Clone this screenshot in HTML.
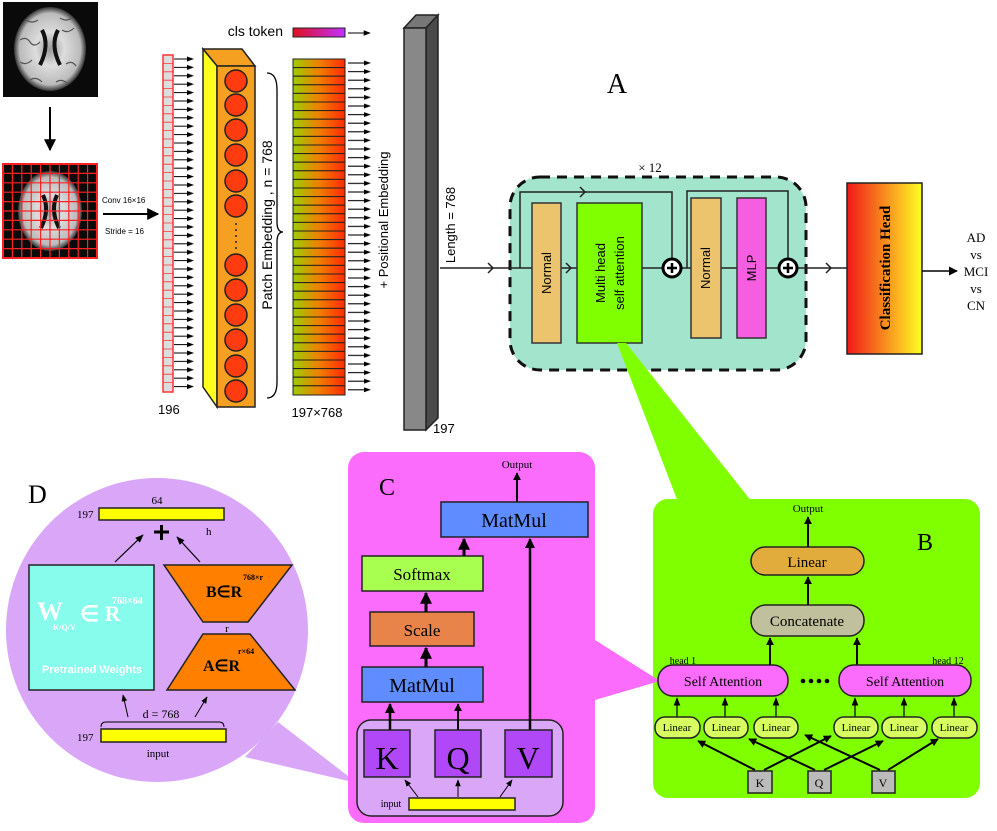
<!DOCTYPE html>
<html><head><meta charset="utf-8"><style>body{margin:0;background:#fff}svg{display:block}</style></head>
<body>
<svg width="997" height="831" viewBox="0 0 997 831" xmlns="http://www.w3.org/2000/svg" font-family="Liberation Serif, serif">
<defs>
<marker id="ah" viewBox="0 0 10 10" refX="9" refY="5" markerWidth="6" markerHeight="6" orient="auto"><path d="M0,0L10,5L0,10z" fill="#000"/></marker>
<marker id="ahs" viewBox="0 0 10 10" refX="9" refY="5" markerWidth="4" markerHeight="4" orient="auto"><path d="M0,0L10,5L0,10z" fill="#000"/></marker>
<marker id="aht" viewBox="0 0 10 10" refX="9" refY="5" markerWidth="7" markerHeight="7" orient="auto"><path d="M0,1L10,5L0,9z" fill="#000"/></marker>
<pattern id="pa1" patternUnits="userSpaceOnUse" x="174" y="55" width="20" height="8.4"><path d="M0,4H14" stroke="#000" stroke-width="1"/><path d="M13,1.5L20,4L13,6.5z" fill="#000"/></pattern>
<pattern id="pa2" patternUnits="userSpaceOnUse" x="348" y="59" width="23" height="8.6"><path d="M0,4H17" stroke="#000" stroke-width="1"/><path d="M16,1.5L23,4L16,6.5z" fill="#000"/></pattern>
<linearGradient id="gb" x1="0" x2="1"><stop offset="0" stop-color="#9ccd00"/><stop offset="0.5" stop-color="#f08000"/><stop offset="1" stop-color="#ff2a00"/></linearGradient>
<linearGradient id="gc" x1="0" x2="1"><stop offset="0" stop-color="#f01818"/><stop offset="1" stop-color="#ff2"/></linearGradient>
<linearGradient id="gt" x1="0" x2="1"><stop offset="0" stop-color="#e01020"/><stop offset="1" stop-color="#c030ff"/></linearGradient>
<radialGradient id="br"><stop offset="0" stop-color="#999"/><stop offset="0.4" stop-color="#ddd"/><stop offset="0.85" stop-color="#bbb"/><stop offset="1" stop-color="#333"/></radialGradient>
</defs>

<!-- brain images -->
<rect x="3" y="2" width="95" height="95" fill="#0a0a0a"/>
<ellipse cx="50" cy="49" rx="36" ry="42" fill="url(#br)"/>
<g stroke="#555" stroke-width="1.2" fill="none"><path d="M20,40q6,-4 10,2t10,0M62,30q6,4 12,-2M20,62q6,4 12,-2M66,64q6,-4 10,2M30,80q6,-4 12,2M56,82q6,-4 12,2M26,20q6,4 12,0M60,18q6,4 12,0"/></g>
<path d="M42,30 Q50,45 40,65 M58,30 Q50,45 60,65" stroke="#111" stroke-width="4" fill="none"/>
<line x1="50" y1="107" x2="50" y2="150" stroke="#000" stroke-width="2" marker-end="url(#ah)"/>
<rect x="3" y="164" width="94" height="94" fill="#0a0a0a"/>
<ellipse cx="50" cy="211" rx="32" ry="40" fill="url(#br)"/>
<path d="M43,195 Q50,210 41,228 M57,195 Q50,210 59,228" stroke="#111" stroke-width="4" fill="none"/>
<g stroke="#f22" stroke-width="1.2" fill="none">
<rect x="3" y="164" width="94" height="94" stroke-width="2"/>
<path d="M12.4,164V258M21.8,164V258M31.2,164V258M40.6,164V258M50,164V258M59.4,164V258M68.8,164V258M78.2,164V258M87.6,164V258M3,173.4H97M3,182.8H97M3,192.2H97M3,201.6H97M3,211H97M3,220.4H97M3,229.8H97M3,239.2H97M3,248.6H97"/>
</g>
<text x="102" y="203" font-family="Liberation Sans, sans-serif" font-size="8">Conv 16×16</text>
<line x1="103" y1="214" x2="158" y2="214" stroke="#000" stroke-width="2" marker-end="url(#ah)"/>
<text x="105" y="234" font-family="Liberation Sans, sans-serif" font-size="8">Stride = 16</text>

<!-- token column -->
<rect x="163" y="55" width="10" height="337" fill="#ddd" stroke="#f33" stroke-width="1.5"/>
<g stroke="#f33" stroke-width="0.8" fill="none">
<path d="M163,63.4h10M163,71.8h10M163,80.2h10M163,88.6h10M163,97h10M163,105.4h10M163,113.8h10M163,122.2h10M163,130.6h10M163,139h10M163,147.4h10M163,155.8h10M163,164.2h10M163,172.6h10M163,181h10M163,189.4h10M163,197.8h10M163,206.2h10M163,214.6h10M163,223h10M163,231.4h10M163,239.8h10M163,248.2h10M163,256.6h10M163,265h10M163,273.4h10M163,281.8h10M163,290.2h10M163,298.6h10M163,307h10M163,315.4h10M163,323.8h10M163,332.2h10M163,340.6h10M163,349h10M163,357.4h10M163,365.8h10M163,374.2h10M163,382.6h10"/>
</g>
<rect x="174" y="55" width="20" height="336" fill="url(#pa1)"/>
<text x="158" y="414" font-family="Liberation Sans, sans-serif" font-size="13">196</text>

<!-- cube -->
<polygon points="203,49 242,49 255,66 217,66" fill="#f5a020" stroke="#222" stroke-width="1.5"/>
<polygon points="203,49 217,66 217,407 203,387" fill="#ffff20" stroke="#222" stroke-width="1.5"/>
<rect x="217" y="66" width="38" height="341" fill="#f5a020" stroke="#222" stroke-width="1.5"/>
<g fill="#ff3c10" stroke="#222" stroke-width="1.5">
<circle cx="236" cy="81" r="11"/><circle cx="236" cy="105" r="11"/><circle cx="236" cy="130" r="11"/><circle cx="236" cy="155" r="11"/><circle cx="236" cy="181" r="11"/><circle cx="236" cy="206" r="11"/>
<circle cx="236" cy="265" r="11"/><circle cx="236" cy="290" r="11"/><circle cx="236" cy="315" r="11"/><circle cx="236" cy="340" r="11"/><circle cx="236" cy="366" r="11"/><circle cx="236" cy="391" r="11"/>
</g>
<g fill="#222"><circle cx="236" cy="224" r="1"/><circle cx="236" cy="230" r="1"/><circle cx="236" cy="236" r="1"/><circle cx="236" cy="242" r="1"/><circle cx="236" cy="248" r="1"/></g>
<path d="M267,73 Q277,73 277,90 L277,222 Q277,232 283,232 Q277,232 277,242 L277,382 Q277,398 267,398" fill="none" stroke="#000" stroke-width="1.3"/>
<text transform="translate(272,225) rotate(-90)" text-anchor="middle" font-family="Liberation Sans, sans-serif" font-size="14">Patch Embedding , n = 768</text>

<!-- cls token -->
<text x="283" y="36" text-anchor="end" font-family="Liberation Sans, sans-serif" font-size="14">cls token</text>
<rect x="293" y="28" width="52" height="9" fill="url(#gt)" stroke="#222"/>
<line x1="348" y1="33" x2="370" y2="33" stroke="#000" marker-end="url(#aht)"/>

<g fill="url(#gb)" stroke="#222" stroke-width="1">
<rect x="293" y="59" width="52" height="8.6"/><rect x="293" y="67.6" width="52" height="8.6"/><rect x="293" y="76.2" width="52" height="8.6"/><rect x="293" y="84.8" width="52" height="8.6"/><rect x="293" y="93.4" width="52" height="8.6"/><rect x="293" y="102" width="52" height="8.6"/><rect x="293" y="110.6" width="52" height="8.6"/><rect x="293" y="119.2" width="52" height="8.6"/><rect x="293" y="127.8" width="52" height="8.6"/><rect x="293" y="136.4" width="52" height="8.6"/><rect x="293" y="145" width="52" height="8.6"/><rect x="293" y="153.6" width="52" height="8.6"/><rect x="293" y="162.2" width="52" height="8.6"/><rect x="293" y="170.8" width="52" height="8.6"/><rect x="293" y="179.4" width="52" height="8.6"/><rect x="293" y="188" width="52" height="8.6"/><rect x="293" y="196.6" width="52" height="8.6"/><rect x="293" y="205.2" width="52" height="8.6"/><rect x="293" y="213.8" width="52" height="8.6"/><rect x="293" y="222.4" width="52" height="8.6"/><rect x="293" y="231" width="52" height="8.6"/><rect x="293" y="239.6" width="52" height="8.6"/><rect x="293" y="248.2" width="52" height="8.6"/><rect x="293" y="256.8" width="52" height="8.6"/><rect x="293" y="265.4" width="52" height="8.6"/><rect x="293" y="274" width="52" height="8.6"/><rect x="293" y="282.6" width="52" height="8.6"/><rect x="293" y="291.2" width="52" height="8.6"/><rect x="293" y="299.8" width="52" height="8.6"/><rect x="293" y="308.4" width="52" height="8.6"/><rect x="293" y="317" width="52" height="8.6"/><rect x="293" y="325.6" width="52" height="8.6"/><rect x="293" y="334.2" width="52" height="8.6"/><rect x="293" y="342.8" width="52" height="8.6"/><rect x="293" y="351.4" width="52" height="8.6"/><rect x="293" y="360" width="52" height="8.6"/><rect x="293" y="368.6" width="52" height="8.6"/><rect x="293" y="377.2" width="52" height="8.6"/><rect x="293" y="385.8" width="52" height="9.2"/>
</g>
<rect x="348" y="59" width="23" height="335.4" fill="url(#pa2)"/>
<text x="317" y="417" text-anchor="middle" font-family="Liberation Sans, sans-serif" font-size="13">197×768</text>
<text transform="translate(388,220) rotate(-90)" text-anchor="middle" font-family="Liberation Sans, sans-serif" font-size="13">+ Positional Embedding</text>

<!-- gray bar -->
<polygon points="404,28 416,15 438,15 426,28" fill="#777" stroke="#222" stroke-width="1.5"/>
<polygon points="426,28 438,15 438,418 426,430" fill="#4a4a4a" stroke="#222" stroke-width="1.5"/>
<rect x="404" y="28" width="22" height="402" fill="#888" stroke="#222" stroke-width="1.5"/>
<text transform="translate(455,225) rotate(-90)" text-anchor="middle" font-family="Liberation Sans, sans-serif" font-size="13">Length = 768</text>
<text x="433" y="433" font-family="Liberation Sans, sans-serif" font-size="13">197</text>

<!-- A -->
<text x="617" y="93" text-anchor="middle" font-size="28">A</text>
<text x="650" y="172" text-anchor="middle" font-size="13">× 12</text>
<rect x="510" y="177" width="296" height="193" rx="30" fill="#a3e4cc" stroke="#111" stroke-width="3" stroke-dasharray="10,7"/>
<line x1="440" y1="268" x2="847" y2="268" stroke="#222" stroke-width="1.5"/>
<path d="M488,263l5,5l-5,5M566,263l5,5l-5,5M826,263l5,5l-5,5M580,187l5,5l-5,5" fill="none" stroke="#222" stroke-width="1.5"/>
<path d="M520,268V192H672V258M687,268V191H788V258" fill="none" stroke="#222" stroke-width="1.5"/>
<rect x="532" y="203" width="29" height="140" fill="#ecc46e" stroke="#333" stroke-width="1.5"/>
<rect x="577" y="203" width="65" height="140" fill="#80ff00" stroke="#333" stroke-width="1.5"/>
<rect x="691" y="198" width="30" height="140" fill="#ecc46e" stroke="#333" stroke-width="1.5"/>
<rect x="737" y="198" width="29" height="140" fill="#f55ee0" stroke="#333" stroke-width="1.5"/>
<g font-family="Liberation Sans, sans-serif" font-size="13" text-anchor="middle">
<text transform="translate(551,273) rotate(-90)">Normal</text>
<text transform="translate(605,273) rotate(-90)">Multi head</text>
<text transform="translate(624,273) rotate(-90)">self attention</text>
<text transform="translate(710,268) rotate(-90)">Normal</text>
<text transform="translate(756,268) rotate(-90)">MLP</text>
</g>
<g stroke="#000" stroke-width="3" fill="#fff"><circle cx="672" cy="268" r="9"/><circle cx="788" cy="268" r="9"/></g>
<path d="M667,268h10M672,263v10M783,268h10M788,263v10" stroke="#000" stroke-width="2.5"/>
<rect x="847" y="183" width="75" height="171" fill="url(#gc)" stroke="#222" stroke-width="1.5"/>
<text transform="translate(890,268) rotate(-90)" text-anchor="middle" font-size="15" font-weight="bold">Classification Head</text>
<line x1="922" y1="271" x2="957" y2="271" stroke="#000" stroke-width="1.5" marker-end="url(#ah)"/>
<g font-size="13" text-anchor="middle"><text x="976" y="242">AD</text><text x="976" y="259">vs</text><text x="976" y="276">MCI</text><text x="976" y="293">vs</text><text x="976" y="310">CN</text></g>

<!-- callouts -->
<polygon points="617,343 626,343 752,502 678,502" fill="#80ff00"/>

<!-- D -->
<polygon points="278,722 357,783 245,757" fill="#d9a6f8"/>
<ellipse cx="157" cy="630" rx="151" ry="152" fill="#d9a6f8"/>
<text x="28" y="503" font-size="26">D</text>
<text x="157" y="504" font-size="11" text-anchor="middle">64</text>
<text x="77" y="518" font-size="11">197</text>
<rect x="99" y="508" width="125" height="12" fill="#ff0" stroke="#222" stroke-width="1.5"/>
<path d="M154,532h15M161.5,525v15" stroke="#000" stroke-width="3"/>
<text x="206" y="535" font-size="11">h</text>
<line x1="115" y1="562" x2="143" y2="535" stroke="#000" stroke-width="1.2" marker-end="url(#aht)"/>
<line x1="200" y1="562" x2="177" y2="537" stroke="#000" stroke-width="1.2" marker-end="url(#aht)"/>
<rect x="29" y="565" width="125" height="125" fill="#88fcec" stroke="#222" stroke-width="1.5"/>
<text x="37" y="620" fill="#fff" font-size="26" font-weight="bold">W</text>
<text x="53" y="630" fill="#fff" font-size="8" font-weight="bold">K/Q/V</text>
<text x="80" y="621" fill="#fff" font-size="22" font-weight="bold">∈ R</text>
<text x="112" y="604" fill="#fff" font-size="10" font-weight="bold">768×64</text>
<text x="92" y="673" fill="#fff" font-size="11" font-weight="bold" text-anchor="middle" font-family="Liberation Sans, sans-serif">Pretrained Weights</text>
<polygon points="164,565 292,565 248,622 203,622" fill="#ff8000" stroke="#222" stroke-width="1.5"/>
<polygon points="203,634 250,634 295,690 167,690" fill="#ff8000" stroke="#222" stroke-width="1.5"/>
<text x="206" y="597" font-size="16" font-weight="bold">B∈R</text><text x="243" y="580" font-size="8" font-weight="bold">768×r</text>
<text x="203" y="671" font-size="16" font-weight="bold">A∈R</text><text x="238" y="654" font-size="8" font-weight="bold">r×64</text>
<text x="227" y="632" font-size="11" text-anchor="middle">r</text>
<line x1="128" y1="717" x2="123" y2="695" stroke="#000" stroke-width="1" marker-end="url(#aht)"/>
<line x1="195" y1="717" x2="207" y2="697" stroke="#000" stroke-width="1" marker-end="url(#aht)"/>
<text x="161" y="718" font-size="12" text-anchor="middle">d = 768</text>
<path d="M101,727q0,-5 5,-5h113q5,0 5,5" fill="none" stroke="#000"/>
<text x="77" y="741" font-size="11">197</text>
<rect x="101" y="729" width="125" height="13" fill="#ff0" stroke="#222" stroke-width="1.5"/>
<text x="158" y="757" font-size="11" text-anchor="middle">input</text>

<!-- C -->
<rect x="348" y="452" width="247" height="371" rx="16" fill="#fc6cfc"/>
<text x="379" y="495" font-size="24">C</text>
<text x="517" y="468" font-size="11" text-anchor="middle">Output</text>
<line x1="517" y1="502" x2="517" y2="473" stroke="#000" stroke-width="2" marker-end="url(#ahs)"/>
<rect x="441" y="502" width="147" height="35" fill="#5f8cff" stroke="#222" stroke-width="1.5"/>
<text x="514" y="527" font-size="20" text-anchor="middle">MatMul</text>
<rect x="362" y="556" width="121" height="35" fill="#a8ff50" stroke="#222" stroke-width="1.5"/>
<text x="422" y="580" font-size="17" text-anchor="middle">Softmax</text>
<rect x="370" y="612" width="104" height="34" fill="#e8844a" stroke="#222" stroke-width="1.5"/>
<text x="422" y="636" font-size="17" text-anchor="middle">Scale</text>
<rect x="362" y="667" width="121" height="35" fill="#5f8cff" stroke="#222" stroke-width="1.5"/>
<text x="422" y="692" font-size="20" text-anchor="middle">MatMul</text>
<g stroke="#000" stroke-width="3" marker-end="url(#ahs)">
<line x1="464" y1="556" x2="464" y2="539"/><line x1="426" y1="612" x2="426" y2="593"/><line x1="426" y1="667" x2="426" y2="648"/>
</g>
<rect x="357" y="720" width="206" height="96" rx="14" fill="#d9a6f8" stroke="#222" stroke-width="1.5"/>
<line x1="530" y1="730" x2="530" y2="539" stroke="#000" stroke-width="2.5" marker-end="url(#ahs)"/>
<line x1="390" y1="730" x2="390" y2="704" stroke="#000" stroke-width="2.5" marker-end="url(#ahs)"/>
<line x1="458" y1="730" x2="458" y2="704" stroke="#000" stroke-width="2" marker-end="url(#ahs)"/>
<rect x="364" y="730" width="46" height="47" fill="#b048f8" stroke="#222" stroke-width="1.5"/>
<rect x="435" y="730" width="46" height="47" fill="#b048f8" stroke="#222" stroke-width="1.5"/>
<rect x="505" y="730" width="47" height="47" fill="#b048f8" stroke="#222" stroke-width="1.5"/>
<text x="387" y="769" font-size="32" text-anchor="middle">K</text>
<text x="458" y="769" font-size="32" text-anchor="middle">Q</text>
<text x="528" y="769" font-size="32" text-anchor="middle">V</text>
<g stroke="#000" stroke-width="1" marker-end="url(#aht)"><line x1="418" y1="797" x2="405" y2="780"/><line x1="458" y1="797" x2="458" y2="780"/><line x1="500" y1="797" x2="512" y2="780"/></g>
<rect x="409" y="798" width="106" height="12" fill="#ff0" stroke="#222" stroke-width="1.5"/>
<text x="391" y="807" font-size="10" text-anchor="middle">input</text>

<!-- B -->
<rect x="653" y="499" width="327" height="299" rx="15" fill="#80ff00"/>
<polygon points="595,640 660,681 595,700" fill="#fc6cfc"/>
<text x="925" y="550" font-size="24" text-anchor="middle">B</text>
<text x="808" y="512" font-size="11" text-anchor="middle">Output</text>
<line x1="808" y1="547" x2="808" y2="517" stroke="#000" stroke-width="2" marker-end="url(#ahs)"/>
<rect x="751" y="547" width="113" height="28" rx="14" fill="#e2ac3c" stroke="#222" stroke-width="1.5"/>
<text x="807" y="567" font-size="15" text-anchor="middle">Linear</text>
<line x1="808" y1="605" x2="808" y2="577" stroke="#000" stroke-width="2" marker-end="url(#ahs)"/>
<rect x="751" y="605" width="113" height="31" rx="15" fill="#c0c09c" stroke="#222" stroke-width="1.5"/>
<text x="807" y="626" font-size="15" text-anchor="middle">Concatenate</text>
<line x1="770" y1="665" x2="770" y2="638" stroke="#000" stroke-width="2" marker-end="url(#ahs)"/>
<line x1="857" y1="665" x2="857" y2="638" stroke="#000" stroke-width="2" marker-end="url(#ahs)"/>
<text x="683" y="664" font-size="10" text-anchor="middle">head 1</text>
<text x="948" y="664" font-size="10" text-anchor="middle">head 12</text>
<rect x="658" y="665" width="130" height="31" rx="15" fill="#fc6cfc" stroke="#222" stroke-width="1.5"/>
<rect x="839" y="665" width="132" height="31" rx="15" fill="#fc6cfc" stroke="#222" stroke-width="1.5"/>
<text x="723" y="686" font-size="14" text-anchor="middle">Self Attention</text>
<text x="905" y="686" font-size="14" text-anchor="middle">Self Attention</text>
<g fill="#000"><circle cx="803" cy="681" r="2.3"/><circle cx="811" cy="681" r="2.3"/><circle cx="819" cy="681" r="2.3"/><circle cx="827" cy="681" r="2.3"/></g>
<g stroke="#000" stroke-width="1.2" marker-end="url(#aht)">
<line x1="677" y1="717" x2="677" y2="698"/><line x1="725" y1="717" x2="725" y2="698"/><line x1="776" y1="717" x2="776" y2="698"/>
<line x1="855" y1="717" x2="855" y2="698"/><line x1="904" y1="717" x2="904" y2="698"/><line x1="954" y1="717" x2="954" y2="698"/>
</g>
<g fill="#d8ff60" stroke="#222" stroke-width="1.5">
<rect x="655" y="717" width="45" height="21" rx="10"/><rect x="704" y="717" width="44" height="21" rx="10"/><rect x="754" y="717" width="44" height="21" rx="10"/>
<rect x="834" y="717" width="44" height="21" rx="10"/><rect x="882" y="717" width="45" height="21" rx="10"/><rect x="932" y="717" width="45" height="21" rx="10"/>
</g>
<g font-size="11" text-anchor="middle"><text x="677" y="731">Linear</text><text x="726" y="731">Linear</text><text x="776" y="731">Linear</text><text x="856" y="731">Linear</text><text x="904" y="731">Linear</text><text x="954" y="731">Linear</text></g>
<g stroke="#000" stroke-width="2" marker-end="url(#ahs)">
<line x1="755" y1="770" x2="698" y2="741"/><line x1="764" y1="770" x2="831" y2="736"/>
<line x1="815" y1="770" x2="749" y2="739"/><line x1="824" y1="770" x2="883" y2="741"/>
<line x1="880" y1="770" x2="805" y2="735"/><line x1="888" y1="770" x2="938" y2="739"/>
</g>
<g fill="#bbb" stroke="#222" stroke-width="1.5"><rect x="748" y="771" width="24" height="22"/><rect x="808" y="771" width="23" height="22"/><rect x="872" y="771" width="23" height="22"/></g>
<g font-size="12" text-anchor="middle"><text x="760" y="787">K</text><text x="819" y="787">Q</text><text x="883" y="787">V</text></g>
</svg>
</body></html>
